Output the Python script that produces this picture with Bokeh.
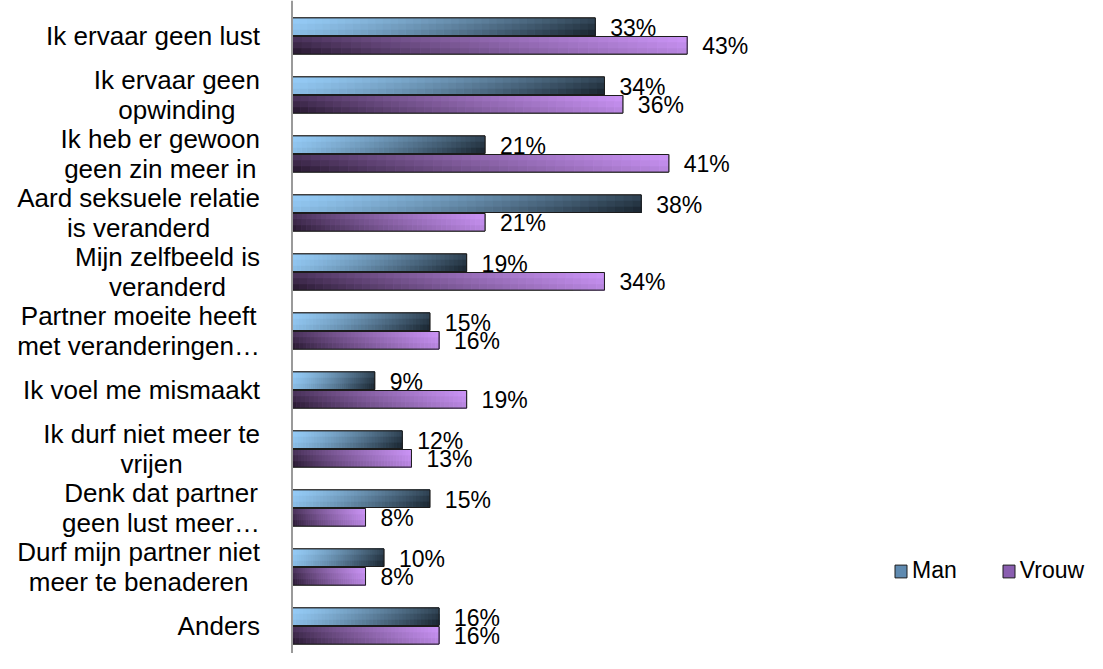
import numpy as np
from bokeh.plotting import figure
from bokeh.models import ColumnDataSource, Range1d, Span, Legend, LegendItem
from bokeh.core.properties import value
from bokeh.embed import file_html
from bokeh.resources import INLINE

categories = [
    "Ik ervaar geen lust",
    "Ik ervaar geen\nopwinding",
    "Ik heb er gewoon\ngeen zin meer in",
    "Aard seksuele relatie\nis veranderd",
    "Mijn zelfbeeld is\nveranderd",
    "Partner moeite heeft\nmet veranderingen\u2026",
    "Ik voel me mismaakt",
    "Ik durf niet meer te\nvrijen",
    "Denk dat partner\ngeen lust meer\u2026",
    "Durf mijn partner niet\nmeer te benaderen",
    "Anders",
]
man = [33, 34, 21, 38, 19, 15, 9, 12, 15, 10, 16]
vrouw = [43, 36, 41, 21, 34, 16, 19, 13, 8, 8, 16]
series = ["Man", "Vrouw"]

FONT = "Liberation Sans"
PX = 9.19          # pixels per percent
W, H = 1087, 653
ZERO = 291.5        # frame pixel of 0%
GAP = 59.0          # pixels between category centres
TOP = 35.5          # frame pixel of first category centre

x0 = -ZERO / PX
x1 = (W - ZERO) / PX
y_top = -TOP / GAP
y_bot = (H - TOP) / GAP

p = figure(width=W, height=H, output_backend="svg", toolbar_location=None,
           x_range=Range1d(x0, x1), y_range=Range1d(y_bot, y_top),
           min_border=0, min_border_left=0, min_border_right=0,
           min_border_top=0, min_border_bottom=0)
p.xaxis.visible = False
p.yaxis.visible = False
p.grid.visible = False
p.outline_line_color = None
p.background_fill_color = "white"
p.border_fill_color = "white"

idx = np.arange(len(categories))
bar_h = 17.6 / GAP
off = 9.3 / GAP
y_man = idx - off
y_vrouw = idx + off

def mix(c1, c2, t):
    t = min(max(t, 0.0), 1.0)
    return "#%02x%02x%02x" % tuple(int(round(a + (b - a) * t)) for a, b in zip(c1, c2))

MAN_L, MAN_D = (150, 205, 248), (22, 32, 42)
VR_L, VR_D = (206, 150, 250), (28, 16, 34)

src = ColumnDataSource(dict(y_man=y_man, y_vrouw=y_vrouw, man=man, vrouw=vrouw,
                            man_lbl=[f"{v}%" for v in man],
                            vrouw_lbl=[f"{v}%" for v in vrouw],
                            cat=categories, y=idx, zero=[0] * len(idx)))

# base bars (also used as legend glyphs)
r_m = p.hbar(y="y_man", left=0, right="man", height=bar_h, source=src,
             fill_color="#5f8ab0", line_color="#1c1c1c", line_width=1)
r_v = p.hbar(y="y_vrouw", left=0, right="vrouw", height=bar_h, source=src,
             fill_color="#8a5eb0", line_color="#1c1c1c", line_width=1)

NX, NY = 40, 3
L, R, T, B, C = [], [], [], [], []
for vals, ys, kind in ((man, y_man, "m"), (vrouw, y_vrouw, "v")):
    for v, yc in zip(vals, ys):
        top = yc - bar_h / 2
        bot = yc + bar_h / 2
        for kx in range(NX):
            xf = (kx + 0.5) / NX
            for ky in range(NY):
                yf = (ky + 0.5) / NY
                if kind == "m":
                    d = 0.82 * xf + 0.18 * yf
                    col = mix(MAN_L, MAN_D, d ** 1.3)
                else:
                    l = 0.82 * xf + 0.18 * (1 - yf)
                    col = mix(VR_D, VR_L, l ** 0.75)
                L.append(v * kx / NX)
                R.append(v)
                T.append(top + (bot - top) * ky / NY)
                B.append(bot)
                C.append(col)

grad = ColumnDataSource(dict(left=L, right=R, top=T, bottom=B, color=C))
p.quad(left="left", right="right", top="top", bottom="bottom", source=grad,
       fill_color="color", line_color=None)

# outlines on top of gradient
p.hbar(y="y_man", left=0, right="man", height=bar_h, source=src,
       fill_alpha=0, line_color="#1c1c1c", line_width=1)
p.hbar(y="y_vrouw", left=0, right="vrouw", height=bar_h, source=src,
       fill_alpha=0, line_color="#1c1c1c", line_width=1)

# value labels
p.text(x="man", y="y_man", text="man_lbl", source=src, x_offset=15, y_offset=1,
       text_align="left", text_baseline="middle", text_font=value(FONT),
       text_font_size="23px", text_color="#000000")
p.text(x="vrouw", y="y_vrouw", text="vrouw_lbl", source=src, x_offset=15, y_offset=1,
       text_align="left", text_baseline="middle", text_font=value(FONT),
       text_font_size="23px", text_color="#000000")

# category labels
p.text(x="zero", y="y", text="cat", source=src, x_offset=-32,
       text_align="center", text_baseline="middle", anchor=value("center_right"),
       text_font=value(FONT), text_font_size="26px", text_line_height=1.0,
       text_color="#000000")

# axis line
p.add_layout(Span(location=0, dimension="height", line_color="#9a9a9a", line_width=2))

# legend
legend = Legend(items=[LegendItem(label=series[0], renderers=[r_m]),
                       LegendItem(label=series[1], renderers=[r_v])],
                location=(893, 69), orientation="horizontal",
                glyph_width=15, glyph_height=16, label_standoff=4, spacing=44,
                padding=0, margin=0, border_line_color=None,
                background_fill_alpha=0, label_text_font=FONT,
                label_text_font_size="23px", label_text_color="#000000")
p.add_layout(legend)

open("out.html", "w").write(file_html(p, INLINE))
